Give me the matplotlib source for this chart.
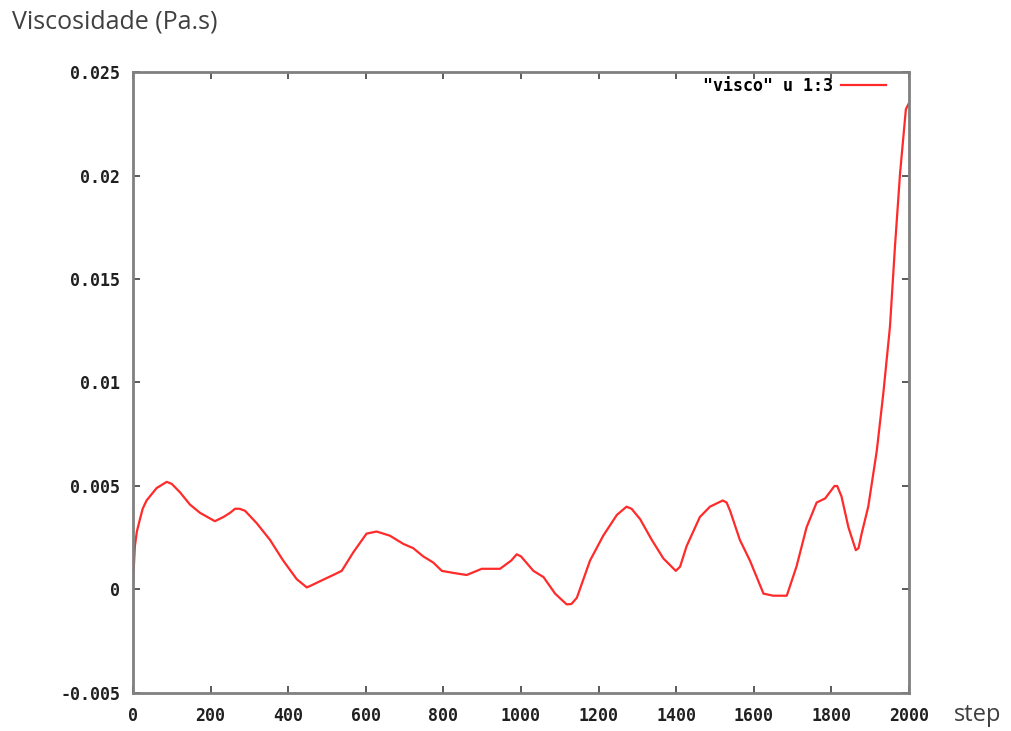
import matplotlib.pyplot as plt
import numpy as np

# viscosidade por passo de tempo (coluna 3 do arquivo "visco")
step = [0, 5, 10, 18, 25, 35, 61, 87, 100, 121, 147, 173, 211, 233, 250, 263,
        275, 289, 319, 353, 387, 422, 448, 460, 482, 516, 538, 568, 602, 628,
        662, 697, 722, 748, 774, 796, 826, 860, 899, 946, 975, 989, 1000, 1032,
        1058, 1088, 1105, 1118, 1130, 1144, 1178, 1212, 1247, 1272, 1285, 1307,
        1337, 1367, 1399, 1410, 1427, 1461, 1487, 1520, 1530, 1539, 1564, 1590,
        1625, 1650, 1685, 1710, 1736, 1762, 1784, 1800, 1808, 1815, 1826, 1844,
        1863, 1870, 1878, 1895, 1917, 1934, 1951, 1964, 1977, 1992, 2000]
visco = [0.0003, 0.0021, 0.0028, 0.0034, 0.0039, 0.0043, 0.0049, 0.0052,
         0.0051, 0.0047, 0.0041, 0.0037, 0.0033, 0.0035, 0.0037, 0.0039,
         0.0039, 0.0038, 0.0032, 0.0024, 0.0014, 0.0005, 0.0001, 0.0002,
         0.0004, 0.0007, 0.0009, 0.0018, 0.0027, 0.0028, 0.0026, 0.0022,
         0.0020, 0.0016, 0.0013, 0.0009, 0.0008, 0.0007, 0.0010, 0.0010,
         0.0014, 0.0017, 0.0016, 0.0009, 0.0006, -0.0002, -0.0005, -0.00072,
         -0.0007, -0.0004, 0.0014, 0.0026, 0.0036, 0.0040, 0.0039, 0.0034,
         0.0024, 0.0015, 0.0009, 0.0011, 0.0021, 0.0035, 0.0040, 0.0043,
         0.0042, 0.0038, 0.0024, 0.0014, -0.0002, -0.0003, -0.0003, 0.0011,
         0.0030, 0.0042, 0.0044, 0.0048, 0.0050, 0.0050, 0.0045, 0.0030,
         0.0019, 0.0020, 0.0027, 0.0040, 0.0067, 0.0095, 0.0127, 0.0166,
         0.0201, 0.0232, 0.0235]

xticks = np.arange(0, 2001, 200)
yticks = [-0.005, 0, 0.005, 0.01, 0.015, 0.02, 0.025]
ylabels = ["-0.005", "0", "0.005", "0.01", "0.015", "0.02", "0.025"]

fig = plt.figure(figsize=(10.12, 7.31), dpi=100)
ax = fig.add_axes([0.1314, 0.052, 0.7668, 0.8495])

ax.plot(step, visco, color="#ff2a2a", linewidth=1.6, label='"visco" u 1:3')

ax.set_xlim(0, 2000)
ax.set_ylim(-0.005, 0.025)
ax.set_xticks(xticks)
ax.set_yticks(yticks)
ax.set_yticklabels(ylabels)

for s in ax.spines.values():
    s.set_color("#808080")
    s.set_linewidth(2)

ax.tick_params(direction="in", length=5, width=1.2, color="#404040",
               top=True, right=True, labelsize=12)
ax.tick_params(axis="x", pad=10)
ax.tick_params(axis="y", pad=9)
for lab in ax.get_xticklabels() + ax.get_yticklabels():
    lab.set_fontfamily("DejaVu Sans Mono")
    lab.set_fontweight("bold")
    lab.set_color("#202020")

leg = ax.legend(loc="upper right", bbox_to_anchor=(0.975, 0.997),
                frameon=False, markerfirst=False,
                handlelength=2.7, borderaxespad=0, handletextpad=0.5,
                borderpad=0.2,
                prop={"family": "DejaVu Sans Mono", "weight": "bold", "size": 12})

fig.text(0.012, 0.97, "Viscosidade (Pa.s)", fontsize=18, color="#404040",
         family="Open Sans", ha="left", va="center")
fig.text(0.943, 0.022, "step", fontsize=17, color="#404040",
         family="Open Sans", ha="left", va="center")

plt.savefig("out.png", dpi=100)
